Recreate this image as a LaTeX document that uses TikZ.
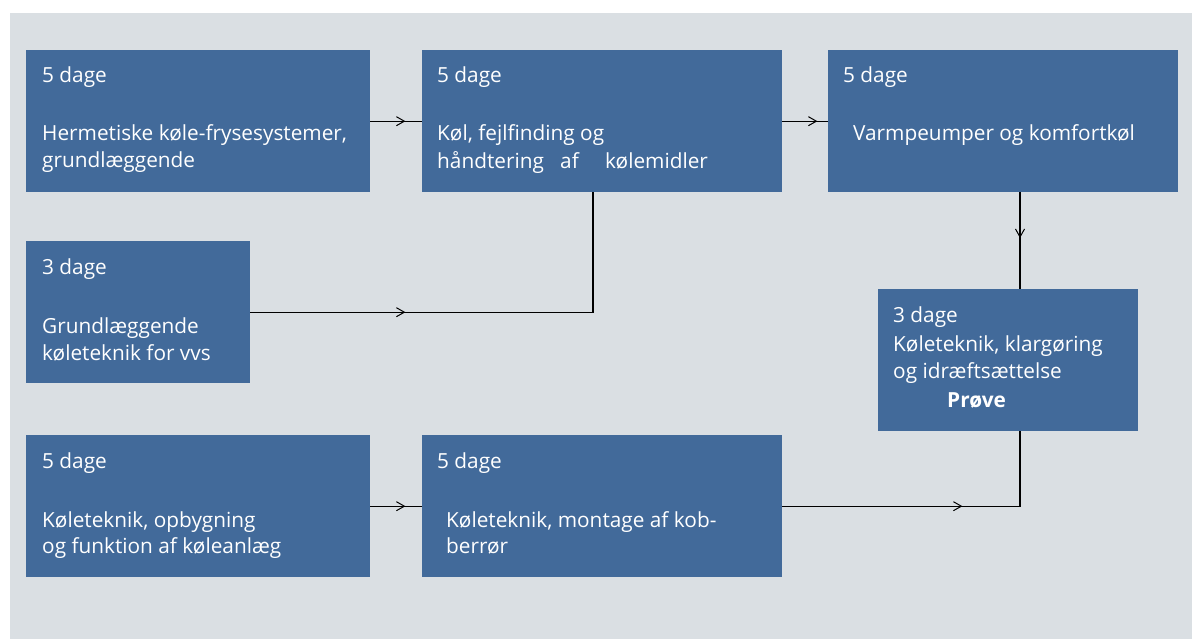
\documentclass[tikz,border=0pt]{standalone}
\usepackage{fontspec}
\setmainfont{Open Sans}
\usetikzlibrary{arrows.meta,decorations.markings}
\definecolor{panelgray}{HTML}{DADFE3}
\definecolor{boxblue}{HTML}{426A9A}
\begin{document}
\begin{tikzpicture}[x=1pt,y=-1pt,
  box/.style={draw=none,fill=boxblue,anchor=north west,inner sep=0pt},
  txt/.style={anchor=base west,inner sep=0pt,text=white,font=\fontsize{20.8}{27}\selectfont},
  flow/.style={draw=black,line width=1.2pt},
  tipat/.style={postaction={decorate},decoration={markings,mark=at position #1 with {\arrow[line width=1pt]{Straight Barb[length=8pt,width=9pt]}}}}
]
\useasboundingbox (0,0) rectangle (1192,639);
\fill[white] (0,0) rectangle (1192,639);
\fill[panelgray] (10,13) rectangle (1192,639);
% boxes
\node[box,minimum width=344pt,minimum height=142pt] (A) at (26,50) {};
\node[box,minimum width=360pt,minimum height=142pt] (B) at (422,50) {};
\node[box,minimum width=350pt,minimum height=142pt] (C) at (828,50) {};
\node[box,minimum width=224pt,minimum height=142pt] (D) at (26,241) {};
\node[box,minimum width=260pt,minimum height=142pt] (E) at (878,289) {};
\node[box,minimum width=344pt,minimum height=142pt] (F) at (26,435) {};
\node[box,minimum width=360pt,minimum height=142pt] (G) at (422,435) {};
% texts
\node[txt] (Ad) at (42,83) {5 dage};
\node[txt] (At1) at (42,141) {Hermetiske køle-frysesystemer,};
\node[txt] (At2) at (42,168) {grundlæggende};
\node[txt] (Bd) at (437,83) {5 dage};
\node[txt] (Bt1) at (437,141) {Køl, fejlfinding og};
\node[txt] (Bt2) at (437,169) {håndtering};
\node[txt] (Bt3) at (560,169) {af};
\node[txt] (Bt4) at (605,169) {kølemidler};
\node[txt] (Cd) at (843,83) {5 dage};
\node[txt] (Ct) at (853,141) {Varmpeumper og komfortkøl};
\node[txt] (Dd) at (42,275) {3 dage};
\node[txt] (Dt1) at (42,333) {Grundlæggende};
\node[txt] (Dt2) at (42,360) {køleteknik for vvs};
\node[txt] (Ed) at (893,323) {3 dage};
\node[txt] (Et1) at (893,351) {Køleteknik, klargøring};
\node[txt] (Et2) at (893,378) {og idræftsættelse};
\node[txt,font=\fontsize{20.8}{27}\selectfont\bfseries] (Ep) at (947,407) {Prøve};
\node[txt] (Fd) at (42,468) {5 dage};
\node[txt] (Ft1) at (42,527) {Køleteknik, opbygning};
\node[txt] (Ft2) at (42,553) {og funktion af køleanlæg};
\node[txt] (Gd) at (437,468) {5 dage};
\node[txt] (Gt1) at (446,527) {Køleteknik, montage af kob-};
\node[txt] (Gt2) at (446,553) {berrør};
% connectors
\coordinate (DB) at (593,192);
\coordinate (CE) at (1020,192);
\coordinate (EC) at (1020,289);
\coordinate (EG) at (1020,431);
\draw[flow,tipat=35pt] (A.east) -- (B.west);
\draw[flow,tipat=35pt] (B.east) -- (C.west);
\draw[flow,tipat=155pt] (D.east) -| (DB);
\draw[flow,tipat=46pt] (CE) -- (EC);
\draw[flow,tipat=35pt] (F.east) -- (G.west);
\draw[flow,tipat=180pt] (G.east) -| (EG);
\end{tikzpicture}
\end{document}
